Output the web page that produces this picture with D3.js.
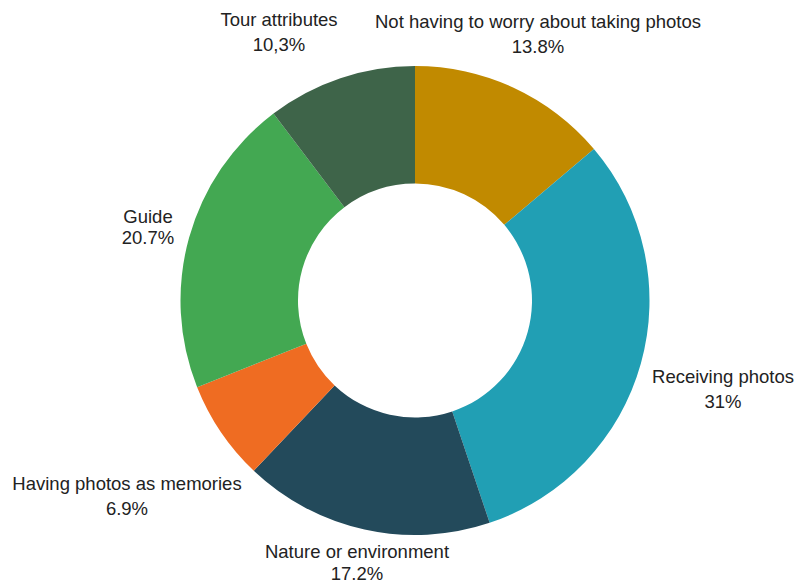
<!DOCTYPE html>
<meta charset="utf-8">
<style>
body { margin: 0; background: #fff; }
text { font-family: "Liberation Sans", Arial, sans-serif; font-size: 18.5px; fill: #222; }
</style>
<body>
<script src="https://cdn.jsdelivr.net/npm/d3@7"></script>
<script>
var width = 796, height = 585;

var categories = ["Not having to worry about taking photos", "Receiving photos", "Nature or environment",
                  "Having photos as memories", "Guide", "Tour attributes"];
var values = [13.8, 31, 17.2, 6.9, 20.7, 10.3];
var valueLabels = ["13.8%", "31%", "17.2%", "6.9%", "20.7%", "10,3%"];
var colors = ["#c18a00", "#219fb4", "#234a5b", "#ef6c22", "#43a852", "#3e6449"];

// where each label sits (centre x, first baseline, line gap)
var labelPos = [[538, 28, 25], [723, 383, 25], [357, 558, 22], [127, 490, 25], [148, 223, 21], [279, 26, 25]];

var cx = 415, cy = 300.5, outerR = 234.5, innerR = 117;

var svg = d3.select("body").append("svg")
    .attr("width", width)
    .attr("height", height);

var pie = d3.pie().sort(null).value(function(d) { return d; });
var arc = d3.arc().innerRadius(innerR).outerRadius(outerR);

var g = svg.append("g").attr("transform", "translate(" + cx + "," + cy + ")");

g.selectAll("path")
    .data(pie(values))
  .enter().append("path")
    .attr("d", arc)
    .attr("fill", function(d, i) { return colors[i]; });

var labels = svg.selectAll(".label")
    .data(categories)
  .enter().append("text")
    .attr("class", "label")
    .attr("text-anchor", "middle");

labels.append("tspan")
    .attr("x", function(d, i) { return labelPos[i][0]; })
    .attr("y", function(d, i) { return labelPos[i][1]; })
    .text(function(d) { return d; });

labels.append("tspan")
    .attr("x", function(d, i) { return labelPos[i][0]; })
    .attr("y", function(d, i) { return labelPos[i][1] + labelPos[i][2]; })
    .text(function(d, i) { return valueLabels[i]; });
</script>
